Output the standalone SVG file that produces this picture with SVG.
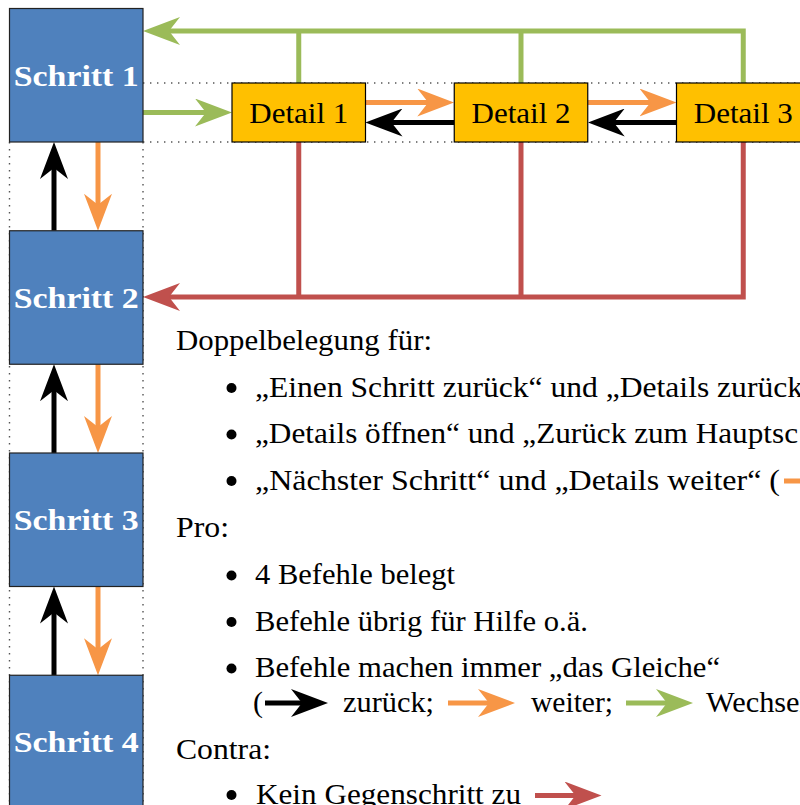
<svg xmlns="http://www.w3.org/2000/svg" width="800" height="805" viewBox="0 0 800 805">
  <style>
    .schritt rect { fill: #4F81BD; stroke: #222; stroke-width: 1.2; }
    .schritt text { fill: #fff; font-family: "Liberation Serif", "DejaVu Serif", "Times New Roman", serif; font-weight: bold; font-size: 29.5px; text-anchor: middle; }
    .detail rect { fill: #FFC000; stroke: #000; stroke-width: 1.2; }
    .detail text { fill: #000; font-family: "Liberation Serif", "DejaVu Serif", "Times New Roman", serif; font-size: 30px; text-anchor: middle; }
    .aux { fill: none; stroke: #555; stroke-width: 1.4; stroke-dasharray: 1.4 5.6; }
    .c { fill: none; stroke-width: 5; stroke-linejoin: miter; }
    .g { stroke: #9BBB59; }
    .o { stroke: #F79646; }
    .r { stroke: #C0504D; }
    .k { stroke: #000; }
    .txt { fill: #000; font-family: "Liberation Serif", "DejaVu Serif", "Times New Roman", serif; font-size: 30px; }
  </style>
  <defs>
    <marker id="ag" viewBox="0 0 37 28" refX="13" refY="14" markerWidth="37" markerHeight="28" markerUnits="userSpaceOnUse" orient="auto"><path d="M37,14 L0,0 L11,14 L0,28 Z" fill="#9BBB59"/></marker>
    <marker id="ao" viewBox="0 0 37 28" refX="13" refY="14" markerWidth="37" markerHeight="28" markerUnits="userSpaceOnUse" orient="auto"><path d="M37,14 L0,0 L11,14 L0,28 Z" fill="#F79646"/></marker>
    <marker id="ar" viewBox="0 0 37 28" refX="13" refY="14" markerWidth="37" markerHeight="28" markerUnits="userSpaceOnUse" orient="auto"><path d="M37,14 L0,0 L11,14 L0,28 Z" fill="#C0504D"/></marker>
    <marker id="ak" viewBox="0 0 37 28" refX="13" refY="14" markerWidth="37" markerHeight="28" markerUnits="userSpaceOnUse" orient="auto"><path d="M37,14 L0,0 L11,14 L0,28 Z" fill="#000"/></marker>
  </defs>

  <g id="helplines">
    <path class="aux" d="M143,83 H800 M143,142 H800 M9.5,142 V805 M143,142 V805"/>
  </g>

  <g id="connectors">
    <path class="c g" d="M298.75,83 V31 M521,83 V31"/>
    <path class="c g" d="M743.25,83 V31 H167" marker-end="url(#ag)"/>
    <path class="c g" d="M143,112.5 H208" marker-end="url(#ag)"/>
    <path class="c o" d="M365.5,102.5 H430.25" marker-end="url(#ao)"/>
    <path class="c o" d="M587.75,102.5 H652.5" marker-end="url(#ao)"/>
    <path class="c k" d="M454.25,122.5 H389.5" marker-end="url(#ak)"/>
    <path class="c k" d="M676.5,122.5 H611.75" marker-end="url(#ak)"/>
    <path class="c r" d="M298.75,142 V297 M521,142 V297"/>
    <path class="c r" d="M743.25,142 V297 H167" marker-end="url(#ar)"/>
    <path class="c k" d="M54,230.75 V166" marker-end="url(#ak)"/>
    <path class="c o" d="M98,142 V206.75" marker-end="url(#ao)"/>
    <path class="c k" d="M54,453 V388.25" marker-end="url(#ak)"/>
    <path class="c o" d="M98,364.25 V429" marker-end="url(#ao)"/>
    <path class="c k" d="M54,675.25 V610.5" marker-end="url(#ak)"/>
    <path class="c o" d="M98,586.5 V651.25" marker-end="url(#ao)"/>
  </g>

  <g id="schritt1" class="schritt"><rect x="9.5" y="8.5" width="133.5" height="133.5"/><text x="76.25" y="85.5" textLength="125" lengthAdjust="spacingAndGlyphs">Schritt 1</text></g>
  <g id="schritt2" class="schritt"><rect x="9.5" y="230.75" width="133.5" height="133.5"/><text x="76.25" y="307.75" textLength="125" lengthAdjust="spacingAndGlyphs">Schritt 2</text></g>
  <g id="schritt3" class="schritt"><rect x="9.5" y="453" width="133.5" height="133.5"/><text x="76.25" y="530" textLength="125" lengthAdjust="spacingAndGlyphs">Schritt 3</text></g>
  <g id="schritt4" class="schritt"><rect x="9.5" y="675.25" width="133.5" height="133.5"/><text x="76.25" y="752.25" textLength="125" lengthAdjust="spacingAndGlyphs">Schritt 4</text></g>

  <g id="detail1" class="detail"><rect x="232" y="83" width="133.5" height="59"/><text x="298.75" y="122.5" textLength="99" lengthAdjust="spacingAndGlyphs">Detail 1</text></g>
  <g id="detail2" class="detail"><rect x="454.25" y="83" width="133.5" height="59"/><text x="521" y="122.5" textLength="99" lengthAdjust="spacingAndGlyphs">Detail 2</text></g>
  <g id="detail3" class="detail"><rect x="676.5" y="83" width="133.5" height="59"/><text x="743.25" y="122.5" textLength="99" lengthAdjust="spacingAndGlyphs">Detail 3</text></g>

  <g id="notes">
    <text class="txt" x="176" y="350" textLength="256" lengthAdjust="spacingAndGlyphs">Doppelbelegung für:</text>
    <circle cx="231.5" cy="388" r="5"/>
    <text class="txt" x="255" y="396.5" textLength="548" lengthAdjust="spacingAndGlyphs">„Einen Schritt zurück“ und „Details zurück</text>
    <circle cx="231.5" cy="434.5" r="5"/>
    <text class="txt" x="255" y="443" textLength="543" lengthAdjust="spacingAndGlyphs">„Details öffnen“ und „Zurück zum Hauptsc</text>
    <circle cx="231.5" cy="481" r="5"/>
    <text class="txt" x="255" y="489.5" textLength="525" lengthAdjust="spacingAndGlyphs">„Nächster Schritt“ und „Details weiter“ (</text>
    <path class="c o" d="M784,481 H826" marker-end="url(#ao)"/>

    <text class="txt" x="176" y="536.5" textLength="53" lengthAdjust="spacingAndGlyphs">Pro:</text>
    <circle cx="231.5" cy="575.5" r="5"/>
    <text class="txt" x="255" y="584" textLength="200" lengthAdjust="spacingAndGlyphs">4 Befehle belegt</text>
    <circle cx="231.5" cy="622" r="5"/>
    <text class="txt" x="255" y="630.5" textLength="333" lengthAdjust="spacingAndGlyphs">Befehle übrig für Hilfe o.ä.</text>
    <circle cx="231.5" cy="668.5" r="5"/>
    <text class="txt" x="255" y="677" textLength="465" lengthAdjust="spacingAndGlyphs">Befehle machen immer „das Gleiche“</text>
    <text class="txt" x="253" y="712">(</text>
    <path class="c k" d="M265,703 H304" marker-end="url(#ak)"/>
    <text class="txt" x="343" y="712" textLength="91" lengthAdjust="spacingAndGlyphs">zurück;</text>
    <path class="c o" d="M448,703 H491" marker-end="url(#ao)"/>
    <text class="txt" x="531" y="712" textLength="82" lengthAdjust="spacingAndGlyphs">weiter;</text>
    <path class="c g" d="M626,703 H669" marker-end="url(#ag)"/>
    <text class="txt" x="706" y="712" textLength="102" lengthAdjust="spacingAndGlyphs">Wechsel</text>

    <text class="txt" x="176" y="758.5" textLength="95" lengthAdjust="spacingAndGlyphs">Contra:</text>
    <circle cx="231.5" cy="795" r="5"/>
    <text class="txt" x="256" y="803.5" textLength="265" lengthAdjust="spacingAndGlyphs">Kein Gegenschritt zu</text>
    <path class="c r" d="M535,795.5 H577.5" marker-end="url(#ar)"/>
  </g>
</svg>
